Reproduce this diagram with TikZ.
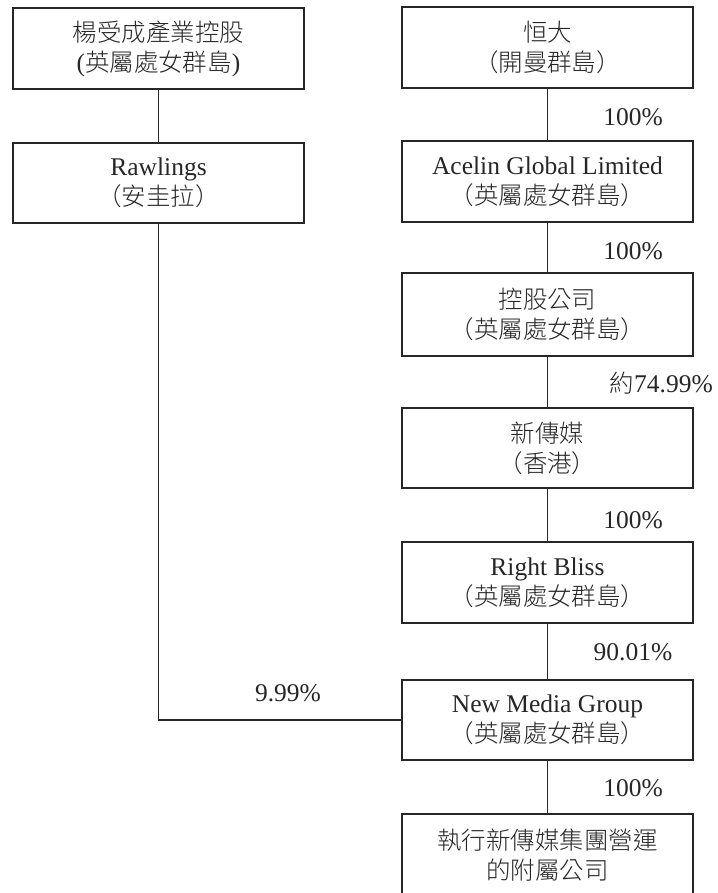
\documentclass[tikz,border=0pt]{standalone}
\usepackage{fontspec}
\setmainfont{Liberation Serif}
\newfontfamily\cjk[UprightFont={* Light},Scale=0.96]{Noto Sans CJK TC}
\begin{document}
\begin{tikzpicture}[x=1pt,y=-1pt,
  box/.style={draw=black!85, line width=1.3pt, minimum width=291pt, align=center,
    font=\fontsize{25.5}{30}\selectfont, inner sep=0pt, text=black!85},
  pct/.style={font=\fontsize{25.5}{28}\selectfont, inner sep=0pt, text=black!85},
  conn/.style={draw=black!85, line width=1.3pt}]
\useasboundingbox (0,0) rectangle (717,893);
\clip (0,0) rectangle (717,893);
\node[box, minimum height=81pt] (L1) at (158.5,48.5) {{\cjk 楊受成產業控股}\\({\cjk 英屬處女群島})};
\node[box, minimum height=80pt] (L2) at (158.5,183) {Rawlings\\{\cjk （安圭拉）}};
\node[box, minimum height=81pt] (R1) at (547.5,47.5) {{\cjk 恒大}\\{\cjk （開曼群島）}};
\node[box, minimum height=81pt] (R2) at (547.5,181.5) {Acelin Global Limited\\{\cjk （英屬處女群島）}};
\node[box, minimum height=83pt] (R3) at (547.5,314.5) {{\cjk 控股公司}\\{\cjk （英屬處女群島）}};
\node[box, minimum height=80pt] (R4) at (547.5,448) {{\cjk 新傳媒}\\{\cjk （香港）}};
\node[box, minimum height=81pt] (R5) at (547.5,582.5) {Right Bliss\\{\cjk （英屬處女群島）}};
\node[box, minimum height=80pt] (R6) at (547.5,720) {New Media Group\\{\cjk （英屬處女群島）}};
\node[box, minimum height=81pt, text depth=0pt] (R7) at (547.5,854.5) {{\cjk 執行新傳媒集團營運}\\{\cjk 的附屬公司}};
\draw[conn] (L1) -- (L2);
\draw[conn] (R1) -- (R2);
\draw[conn] (R2) -- (R3);
\draw[conn] (R3) -- (R4);
\draw[conn] (R4) -- (R5);
\draw[conn] (R5) -- (R6);
\draw[conn] (R6) -- (R7);
\draw[conn] (L2.south) |- (R6.west);
\node[pct] (p1) at (633,117) {100\%};
\node[pct] (p2) at (633,251) {100\%};
\node[pct, anchor=east] (p3) at (713,383) {{\cjk 約}74.99\%};
\node[pct] (p4) at (633,520) {100\%};
\node[pct] (p5) at (633,652) {90.01\%};
\node[pct] (p6) at (633,788) {100\%};
\node[pct] (p7) at (288,693) {9.99\%};
\end{tikzpicture}
\end{document}
